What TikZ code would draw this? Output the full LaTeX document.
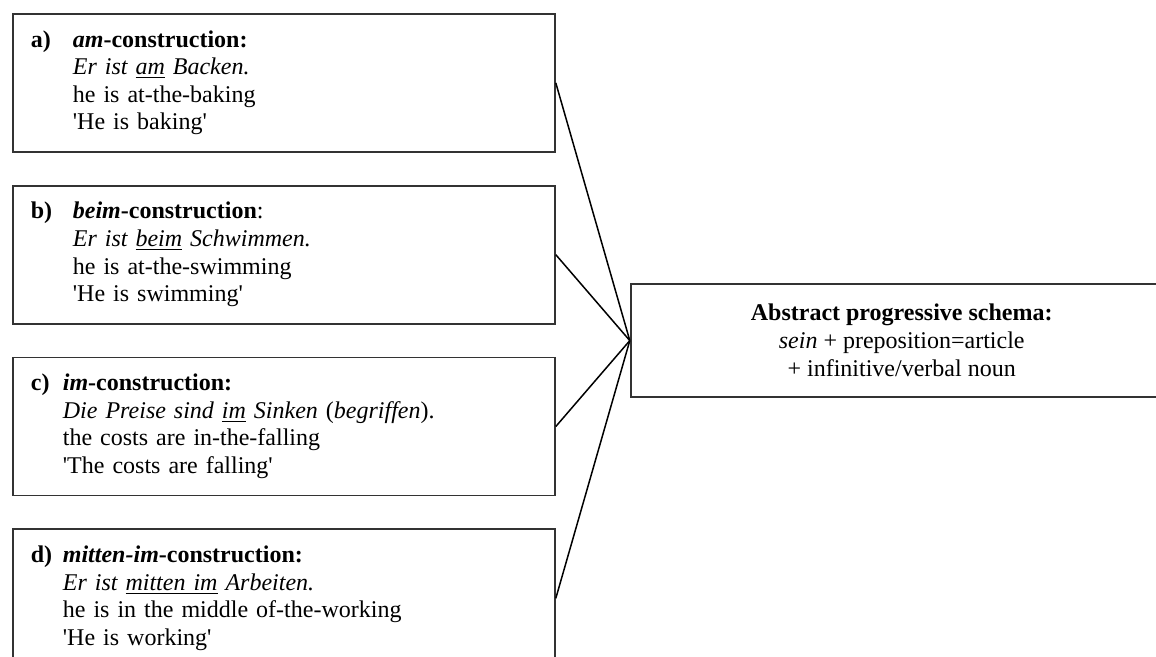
\documentclass[tikz,border=0pt]{standalone}
\usepackage{fontspec}
\setmainfont{Liberation Serif}
\usetikzlibrary{positioning,calc}

\newcommand{\sq}{\textquotesingle}

\begin{document}
\begin{tikzpicture}[
  x=0.5pt, y=-0.5pt,
  node distance=16pt and 37pt,
  example/.style={draw=black!80, line width=0.9pt, minimum width=271pt, minimum height=69pt, text width=253pt, inner xsep=9pt, align=left, font=\fontsize{12}{13.8}\selectfont},
  schema/.style={draw=black!80, line width=0.9pt, minimum width=271pt, minimum height=56.5pt, align=center, font=\fontsize{12}{14}\selectfont},
  link/.style={draw=black, line width=0.75pt},
]
\useasboundingbox (0,0) rectangle (1156,657);
\clip (0,0) rectangle (1156,657);

% a) am-construction
\node[example, anchor=north west] (am) at (12,13) {
  \begin{tabular}{@{}p{21pt}@{}l@{}}
  \textbf{a)} & \textbf{\textit{am}-construction:}\\
  & \textit{Er ist \underline{am} Backen.}\\
  & he is at-the-baking\\
  & \sq He is baking\sq
  \end{tabular}
};

% b) beim-construction
\node[example, below=of am] (beim) {
  \begin{tabular}{@{}p{21pt}@{}l@{}}
  \textbf{b)} & \textbf{\textit{beim}-construction}:\\
  & \textit{Er ist \underline{beim} Schwimmen.}\\
  & he is at-the-swimming\\
  & \sq He is swimming\sq
  \end{tabular}
};

% c) im-construction
\node[example, below=of beim] (im) {
  \begin{tabular}{@{}p{16pt}@{}l@{}}
  \textbf{c)} & \textbf{\textit{im}-construction:}\\
  & \textit{Die Preise sind \underline{im} Sinken} (\textit{begriffen}).\\
  & the costs are in-the-falling\\
  & \sq The costs are falling\sq
  \end{tabular}
};

% d) mitten-im-construction
\node[example, below=of im] (mitten) {
  \begin{tabular}{@{}p{16pt}@{}l@{}}
  \textbf{d)} & \textbf{\textit{mitten-im}-construction:}\\
  & \textit{Er ist \underline{mitten im} Arbeiten.}\\
  & he is in the middle of-the-working\\
  & \sq He is working\sq
  \end{tabular}
};

% abstract schema
\coordinate (mid) at ($(beim.east)!0.5!(im.east)$);
\node[schema, right=of mid, anchor=west] (abstract) {
  \textbf{Abstract progressive schema:}\\
  \textit{sein} + preposition=article\\
  + infinitive/verbal noun
};

\foreach \n in {am,beim,im,mitten}
  \draw[link] (\n.east) -- (abstract.west);

\end{tikzpicture}
\end{document}
